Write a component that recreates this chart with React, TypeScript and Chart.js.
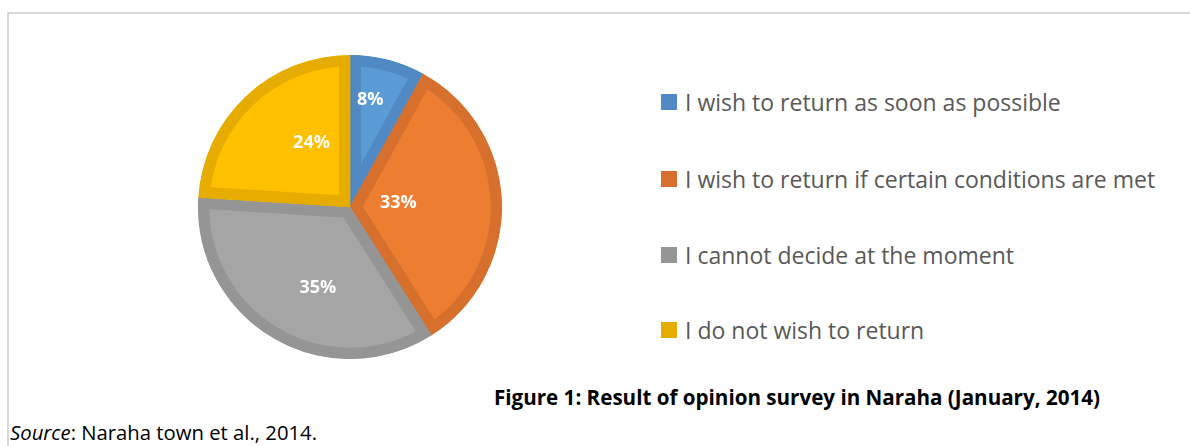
import React, { useEffect, useRef } from "react";
import { Chart, registerables } from "chart.js";

Chart.register(...registerables);

const categories = [
  "I wish to return as soon as possible",
  "I wish to return if certain conditions are met",
  "I cannot decide at the moment",
  "I do not wish to return",
];
const values = [8, 33, 35, 24];
const fillColors = ["#5B9BD5", "#ED7D31", "#A5A5A5", "#FFC000"];
const borderColors = ["#5089C4", "#D6702C", "#959595", "#E6AD00"];
const titleText = "Figure 1: Result of opinion survey in Naraha (January, 2014)";
const sourceLabel = "Source";
const sourceRest = ": Naraha town et al., 2014.";

// label placement inside each slice: t = fraction along the slice angle, r = fraction of radius
const labelPlacement = [
  { t: 0.37, r: 0.72 },
  { t: 0.47, r: 0.32 },
  { t: 0.43, r: 0.57 },
  { t: 0.64, r: 0.49 },
];

const sliceLabelPlugin = {
  id: "sliceLabels",
  afterDatasetsDraw(chart: any) {
    const meta = chart.getDatasetMeta(0);
    const data = chart.data.datasets[0].data as number[];
    const total = data.reduce((a, b) => a + b, 0);
    const ctx = chart.ctx as CanvasRenderingContext2D;
    ctx.save();
    ctx.fillStyle = "#FFFFFF";
    ctx.font = "bold 18px 'Open Sans'";
    ctx.textAlign = "center";
    ctx.textBaseline = "middle";
    meta.data.forEach((arc: any, i: number) => {
      const { x, y, startAngle, endAngle, outerRadius } = arc.getProps(
        ["x", "y", "startAngle", "endAngle", "outerRadius"],
        true
      );
      const p = labelPlacement[i];
      const a = startAngle + (endAngle - startAngle) * p.t;
      const r = outerRadius * p.r;
      const pct = Math.round((data[i] / total) * 100) + "%";
      ctx.fillText(pct, x + Math.cos(a) * r, y + Math.sin(a) * r);
    });
    ctx.restore();
  },
};

export default function App() {
  const canvasRef = useRef<HTMLCanvasElement>(null);

  useEffect(() => {
    if (!canvasRef.current) return;
    const chart = new Chart(canvasRef.current, {
      type: "pie",
      data: {
        labels: categories,
        datasets: [
          {
            data: values,
            backgroundColor: fillColors,
            borderColor: borderColors,
            borderWidth: 11,
            borderAlign: "inner",
            hoverOffset: 0,
          } as any,
        ],
      },
      options: {
        animation: false,
        responsive: true,
        maintainAspectRatio: false,
        layout: { padding: 0 },
        plugins: {
          legend: { display: false },
          tooltip: { enabled: false },
        },
      },
      plugins: [sliceLabelPlugin],
    });
    return () => chart.destroy();
  }, []);

  const rowCenters = [102, 179, 255, 330];

  return (
    <div
      style={{
        position: "fixed",
        left: 0,
        top: 0,
        width: 1190,
        height: 446,
        overflow: "hidden",
        background: "#FFFFFF",
        fontFamily: "'Open Sans', sans-serif",
      }}
    >
      <div
        style={{
          position: "absolute",
          left: 7,
          top: 12,
          width: 1200,
          height: 500,
          borderTop: "2px solid #D9D9D9",
          borderLeft: "2px solid #D9D9D9",
          boxSizing: "border-box",
        }}
      />
      <div style={{ position: "absolute", left: 198, top: 55, width: 304, height: 304 }}>
        <canvas ref={canvasRef} />
      </div>
      {categories.map((c, i) => (
        <div
          key={c}
          style={{
            position: "absolute",
            left: 661,
            top: rowCenters[i] - 16,
            height: 32,
            display: "flex",
            alignItems: "center",
            whiteSpace: "nowrap",
          }}
        >
          <span
            style={{
              display: "inline-block",
              width: 16,
              height: 16,
              background: borderColors[i],
              marginRight: 8,
            }}
          />
          <span style={{ fontSize: 23, color: "#595959", lineHeight: "32px" }}>{c}</span>
        </div>
      ))}
      <div
        style={{
          position: "absolute",
          left: 494,
          top: 383,
          fontSize: 20.6,
          fontWeight: "bold",
          color: "#000000",
          whiteSpace: "nowrap",
          lineHeight: "28px",
        }}
      >
        {titleText}
      </div>
      <div
        style={{
          position: "absolute",
          left: 10,
          top: 418,
          fontSize: 20.3,
          color: "#000000",
          whiteSpace: "nowrap",
          lineHeight: "28px",
        }}
      >
        <i>{sourceLabel}</i>
        {sourceRest}
      </div>
    </div>
  );
}
